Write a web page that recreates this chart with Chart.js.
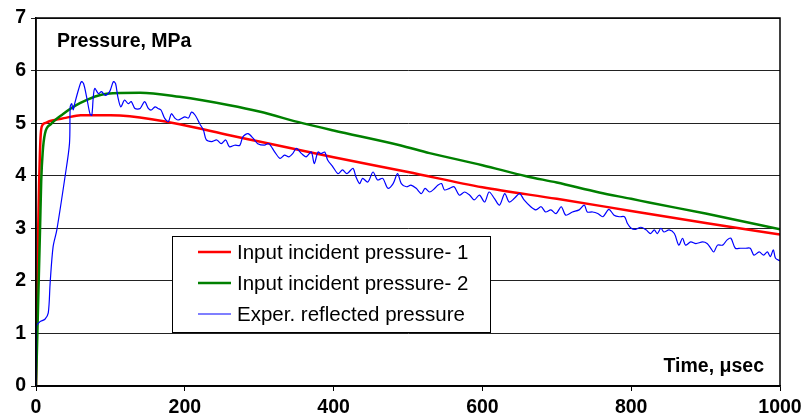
<!DOCTYPE html>
<html>
<head>
<meta charset="utf-8">
<script src="https://cdn.jsdelivr.net/npm/chart.js@4"></script>
<style>
  body { margin: 0; background: #fff; }
  #wrap { width: 808px; height: 420px; }
</style>
</head>
<body>
<div id="wrap"><canvas id="pressureChart" width="808" height="420"></canvas></div>
<script>
const yTitle = 'Pressure, MPa';
const xTitle = 'Time, \u03bcsec';
const seriesNames = ['Input incident pressure- 1', 'Input incident pressure- 2', 'Exper. reflected pressure'];

// input incident pressure 1 (red)
const redT = [0, 3, 6, 8.5, 12, 19, 40, 60, 100, 126, 193, 260, 300, 400, 500, 600, 700, 800, 900, 1000];
const redP = [0, 3.0, 4.7, 4.96, 5.0, 5.04, 5.1, 5.15, 5.15, 5.13, 4.98, 4.77, 4.65, 4.35, 4.07, 3.78, 3.56, 3.33, 3.10, 2.88];

// input incident pressure 2 (green)
const greenT = [0, 5.4, 7, 9, 12, 20, 36, 59, 95, 140, 193, 260, 300, 358, 400, 489, 529, 600, 659, 700, 757, 800, 824, 900, 1000];
const greenP = [0, 2.97, 3.9, 4.45, 4.8, 4.98, 5.17, 5.38, 5.56, 5.58, 5.50, 5.34, 5.22, 5.0, 4.86, 4.58, 4.43, 4.20, 3.99, 3.87, 3.68, 3.56, 3.49, 3.28, 2.98];

// experimental reflected pressure (blue)
const blueT = [0, 0.5, 5, 12, 16.5, 19, 23, 28, 39, 45, 46, 48, 50, 52, 57, 61, 64, 68, 72.5, 75, 77, 79, 84, 88, 93, 99,
  104, 107, 110, 114, 119, 124, 128, 133, 140, 146, 151, 155, 160, 164, 168, 173, 178, 182, 187, 191,
  200, 205, 209, 214, 220, 225, 229, 236, 243, 249, 255, 260, 267, 274, 278, 285, 292, 298, 307, 313, 321, 328, 334, 340,
  345, 350, 357, 363, 370, 374, 379, 383, 388, 392, 399, 406, 412, 418, 426, 430, 435, 439, 446, 453, 459, 466, 473, 480,
  486, 491, 498, 504, 511, 518, 523, 529, 536, 540, 545, 549, 556, 562, 569, 576, 583, 589, 596, 603, 609, 616, 623, 630,
  636, 643, 650, 656, 665, 672, 679, 685, 692, 699, 706, 712, 721, 730, 737, 741, 748, 755, 762, 770, 777, 784, 791, 795,
  800, 806, 813, 820, 826, 831, 835, 840, 844, 851, 858, 864, 869, 873, 880, 887, 896, 902, 907, 911, 916, 923, 929, 934,
  940, 947, 954, 960, 965, 972, 978, 983, 987, 991, 994, 1000];
const blueP = [0, 1.13, 1.22, 1.27, 1.39, 1.96, 2.65, 2.97, 3.98, 4.61, 5.31, 5.37, 5.25, 5.37, 5.63, 5.79, 5.75, 5.50, 5.18, 5.15, 5.5, 5.66, 5.56, 5.6, 5.53, 5.6,
  5.79, 5.75, 5.5, 5.31, 5.44, 5.37, 5.41, 5.28, 5.28, 5.41, 5.28, 5.25, 5.31, 5.28, 5.25, 5.09, 5.03, 5.18, 5.09, 5.06,
  5.12, 5.1, 5.21, 5.15, 4.99, 4.87, 4.68, 4.65, 4.68, 4.61, 4.68, 4.55, 4.58, 4.58, 4.74, 4.8, 4.71, 4.61, 4.58, 4.61, 4.45, 4.33, 4.39, 4.36,
  4.42, 4.52, 4.42, 4.36, 4.45, 4.23, 4.45, 4.42, 4.45, 4.30, 4.17, 4.04, 4.11, 4.04, 4.14, 3.98, 3.85, 3.95, 3.88, 4.07, 3.92, 3.95, 3.76, 3.85,
  4.04, 3.85, 3.79, 3.82, 3.76, 3.66, 3.76, 3.69, 3.76, 3.82, 3.85, 3.73, 3.76, 3.79, 3.63, 3.69, 3.63, 3.54, 3.63, 3.5, 3.69, 3.57, 3.44, 3.66,
  3.5, 3.57, 3.66, 3.54, 3.41, 3.35, 3.41, 3.31, 3.35, 3.28, 3.41, 3.25, 3.31, 3.35, 3.44, 3.31, 3.31, 3.28, 3.22, 3.36, 3.25, 3.22, 3.22, 3.09,
  3.0, 2.98, 3.02, 2.97, 2.90, 2.97, 2.90, 3.0, 2.93, 2.97, 2.90, 2.68, 2.81, 2.68, 2.74, 2.71, 2.74, 2.71, 2.62, 2.55, 2.68, 2.68, 2.78, 2.81,
  2.62, 2.62, 2.62, 2.62, 2.49, 2.55, 2.49, 2.55, 2.46, 2.59, 2.43, 2.38];

const xMin = 0, xMax = 1000, xStep = 200;
const yMin = 0, yMax = 7, yStep = 1;

const FONT = '"Liberation Sans", Arial, sans-serif';

function pts(ts, vs) {
  return ts.map(function (t, i) { return { x: t, y: vs[i] }; });
}

const framePlugin = {
  id: 'frame',
  afterDatasetsDraw(chart) {
    const ctx = chart.ctx;
    const a = chart.chartArea;
    ctx.save();
    // frame round the plot
    ctx.strokeStyle = '#000';
    ctx.lineWidth = 1.5;
    ctx.strokeRect(a.left, a.top, a.right - a.left, a.bottom - a.top);

    // axis titles inside the plot
    ctx.fillStyle = '#000';
    ctx.font = 'bold 19.5px ' + FONT;
    ctx.textBaseline = 'middle';
    ctx.textAlign = 'left';
    ctx.fillText(yTitle, a.left + 21, a.top + 24);
    ctx.textAlign = 'right';
    ctx.fillText(xTitle, a.right - 16, a.bottom - 19);

    // legend box
    const lx = a.left + 136, ly = a.top + 218, lw = 318, lh = 96;
    ctx.fillStyle = '#fff';
    ctx.fillRect(lx, ly, lw, lh);
    ctx.strokeStyle = '#000';
    ctx.lineWidth = 1;
    ctx.strokeRect(lx + 0.5, ly + 0.5, lw, lh);
    const rows = [16, 47, 78];
    ctx.font = '20.5px ' + FONT;
    ctx.textAlign = 'left';
    chart.data.datasets.forEach(function (ds, i) {
      const yy = ly + rows[i];
      ctx.strokeStyle = ds.borderColor;
      ctx.lineWidth = ds.borderWidth;
      ctx.beginPath();
      ctx.moveTo(lx + 26, yy);
      ctx.lineTo(lx + 59, yy);
      ctx.stroke();
      ctx.fillStyle = '#000';
      ctx.fillText(ds.label, lx + 65, yy + 1);
    });
    ctx.restore();
  }
};

new Chart(document.getElementById('pressureChart'), {
  type: 'line',
  data: {
    datasets: [{
      label: seriesNames[0],
      data: pts(redT, redP),
      borderColor: '#ff0000',
      borderWidth: 2.5,
      pointRadius: 0,
      cubicInterpolationMode: 'monotone',
      order: 3
    }, {
      label: seriesNames[1],
      data: pts(greenT, greenP),
      borderColor: '#008000',
      borderWidth: 2.5,
      pointRadius: 0,
      cubicInterpolationMode: 'monotone',
      order: 2
    }, {
      label: seriesNames[2],
      data: pts(blueT, blueP),
      borderColor: '#0000ff',
      borderWidth: 1.2,
      pointRadius: 0,
      tension: 0.3,
      order: 1
    }]
  },
  options: {
    responsive: false,
    animation: false,
    layout: { padding: { top: 18, right: 28, left: 0, bottom: 0 } },
    plugins: {
      legend: { display: false },
      tooltip: { enabled: false }
    },
    scales: {
      x: {
        type: 'linear',
        min: xMin,
        max: xMax,
        ticks: {
          stepSize: xStep,
          color: '#000',
          font: { family: FONT, size: 19.5, weight: 'bold' },
          padding: 5,
          maxRotation: 0,
          callback: function (v) { return String(v); }
        },
        grid: { drawOnChartArea: false, drawTicks: true, tickLength: 5, color: '#000' },
        border: { color: '#000', width: 1.5 },
        afterFit(scale) { scale.height = 34; }
      },
      y: {
        min: yMin,
        max: yMax,
        ticks: {
          stepSize: yStep,
          color: '#000',
          font: { family: FONT, size: 19.5, weight: 'bold' },
          padding: 5
        },
        grid: { color: '#222', lineWidth: 1, tickLength: 5 },
        border: { color: '#000', width: 1.5 },
        afterFit(scale) { scale.width = 36; }
      }
    }
  },
  plugins: [framePlugin]
});
</script>
</body>
</html>
